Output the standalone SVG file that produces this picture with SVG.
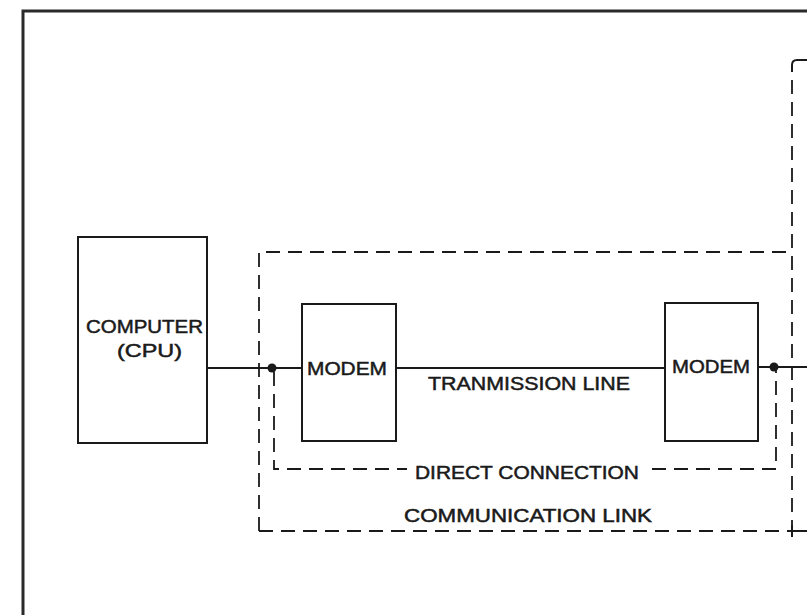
<svg xmlns="http://www.w3.org/2000/svg" width="807" height="615" viewBox="0 0 807 615">
<style>
.solid{fill:none;stroke:#1a1a1a;stroke-width:2}
.dash{fill:none;stroke:#1a1a1a;stroke-width:1.8;stroke-dasharray:14 8}
.box{fill:#fff;stroke:#1a1a1a;stroke-width:2}
text{font-family:"Liberation Sans",Arial,sans-serif;font-size:19px;fill:#1a1a1a;stroke:#1a1a1a;stroke-width:0.5}
</style>
<rect width="807" height="615" fill="#fff"/>
<g id="frame">
<path d="M23 620 V11 H812" fill="none" stroke="#2a2a2a" stroke-width="3"/>
</g>
<g id="connectors">
<path class="solid" d="M207 368 H302"/>
<path class="solid" d="M396 368 H665"/>
<path class="solid" d="M758 367 H807"/>
<circle cx="272" cy="368" r="4.5" fill="#1a1a1a"/>
<circle cx="774" cy="367" r="4.5" fill="#1a1a1a"/>
</g>
<g id="communication-link">
<path class="dash" d="M259 531 V252 H792"/>
<path class="dash" d="M259 531 H792"/>
<path class="solid" d="M792 525 V537 M788 531 H807"/>
<text x="528" y="522" text-anchor="middle" textLength="248" lengthAdjust="spacingAndGlyphs">COMMUNICATION LINK</text>
</g>
<g id="right-box">
<path class="solid" d="M807 60 H797 Q792 60 792 65 V72"/>
<path class="dash" d="M792 80 V525"/>
</g>
<g id="direct-connection">
<path class="dash" d="M274 372 V469 H407"/>
<path class="dash" d="M652 469 H776 V371"/>
<text x="527" y="479" text-anchor="middle" textLength="224" lengthAdjust="spacingAndGlyphs">DIRECT CONNECTION</text>
</g>
<g id="transmission-line">
<text x="529" y="390" text-anchor="middle" textLength="202" lengthAdjust="spacingAndGlyphs">TRANMISSION LINE</text>
</g>
<g id="computer">
<rect class="box" x="78" y="237" width="129" height="206"/>
<text x="144.5" y="333" text-anchor="middle" textLength="117" lengthAdjust="spacingAndGlyphs">COMPUTER</text>
<text x="149.5" y="357" text-anchor="middle" textLength="65" lengthAdjust="spacingAndGlyphs">(CPU)</text>
</g>
<g id="modem1">
<rect class="box" x="302" y="304" width="94" height="137"/>
<text x="347" y="375" text-anchor="middle" textLength="80" lengthAdjust="spacingAndGlyphs">MODEM</text>
</g>
<g id="modem2">
<rect class="box" x="665" y="303" width="93" height="138"/>
<text x="711" y="373" text-anchor="middle" textLength="78" lengthAdjust="spacingAndGlyphs">MODEM</text>
</g>
</svg>
